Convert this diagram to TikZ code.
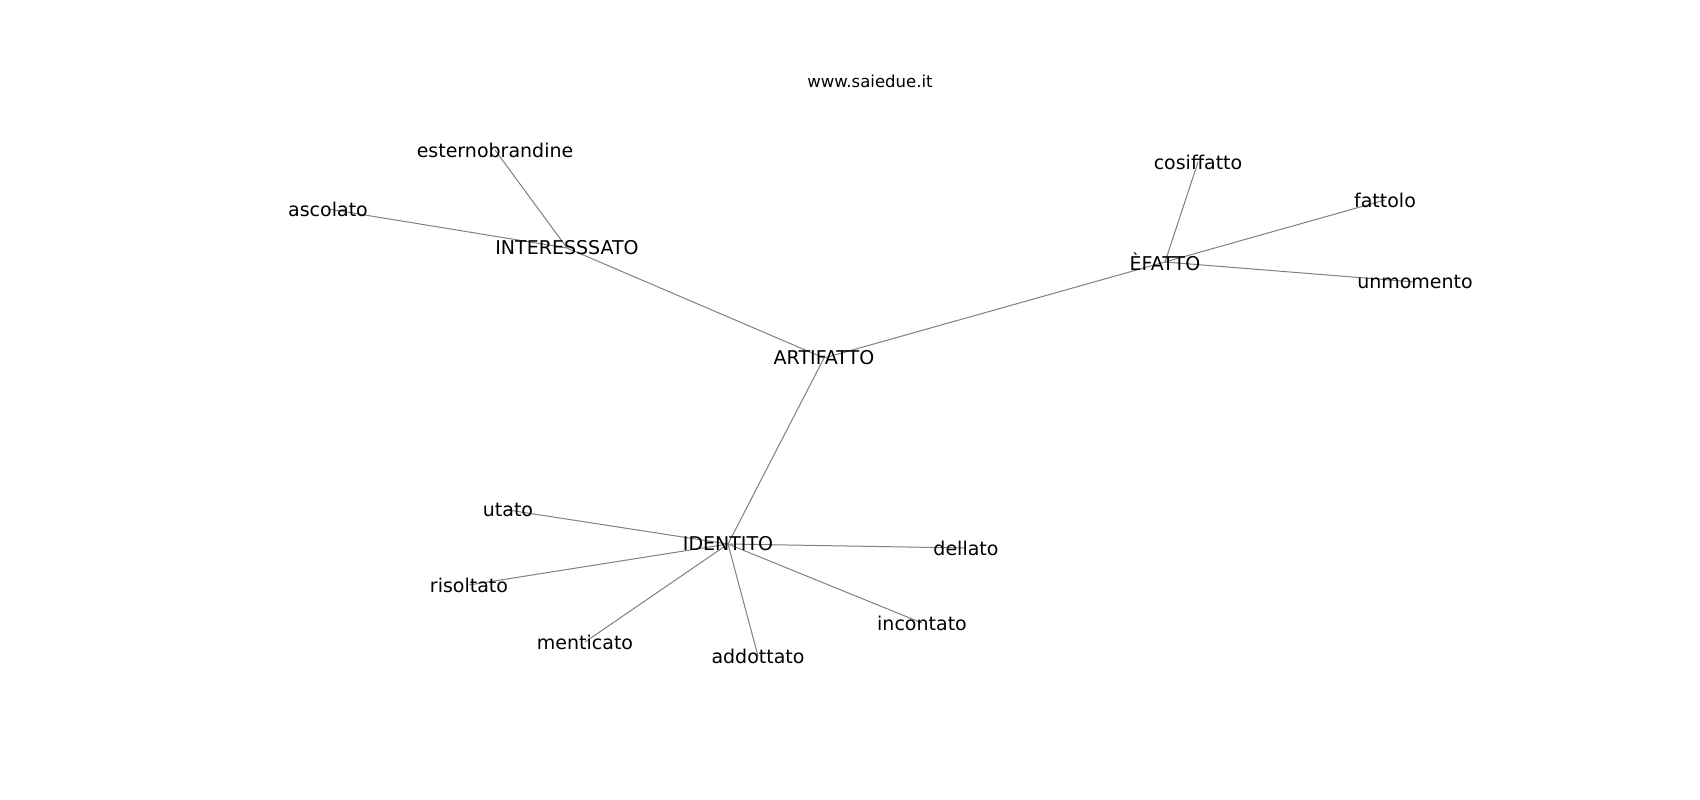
\documentclass[tikz,border=0pt]{standalone}
\usepackage{fontspec}
\setmainfont{DejaVu Sans}
\usetikzlibrary{backgrounds}
\begin{document}
\begin{tikzpicture}[x=1pt,y=-1pt,
  lbl/.style={inner sep=0pt,font=\fontsize{19}{22}\selectfont},
  ttl/.style={inner sep=0pt,font=\fontsize{16.5}{19}\selectfont},
  edge/.style={draw=black!50,line width=1pt}]
\useasboundingbox (0,0) rectangle (1700,800);
\node[ttl] (title) at (870,81) {www.saiedue.it};
\node[lbl] (est) at (495,150) {esternobrandine};
\node[lbl] (asc) at (328,209) {ascolato};
\node[lbl] (int) at (567,248) {INTERESSSATO};
\node[lbl] (cos) at (1198,162) {cosiffatto};
\node[lbl] (fat) at (1385,200) {fattolo};
\node[lbl] (efa) at (1165,262) {ÈFATTO};
\node[lbl] (unm) at (1415,282) {unmomento};
\node[lbl] (art) at (824,358) {ARTIFATTO};
\node[lbl] (uta) at (508,510) {utato};
\node[lbl] (ide) at (728,544) {IDENTITO};
\node[lbl] (del) at (966,548) {dellato};
\node[lbl] (ris) at (469,585) {risoltato};
\node[lbl] (inc) at (922,623) {incontato};
\node[lbl] (men) at (585,642) {menticato};
\node[lbl] (add) at (758,656) {addottato};
\begin{scope}[on background layer]
\fill[white] (0,0) rectangle (1700,800);
\draw[edge] (art.center) -- (int.center);
\draw[edge] (art.center) -- (efa.center);
\draw[edge] (art.center) -- (ide.center);
\draw[edge] (int.center) -- (est.center);
\draw[edge] (int.center) -- (asc.center);
\draw[edge] (efa.center) -- (cos.center);
\draw[edge] (efa.center) -- (fat.center);
\draw[edge] (efa.center) -- (unm.center);
\draw[edge] (ide.center) -- (uta.center);
\draw[edge] (ide.center) -- (del.center);
\draw[edge] (ide.center) -- (ris.center);
\draw[edge] (ide.center) -- (inc.center);
\draw[edge] (ide.center) -- (men.center);
\draw[edge] (ide.center) -- (add.center);
\end{scope}
\end{tikzpicture}
\end{document}
